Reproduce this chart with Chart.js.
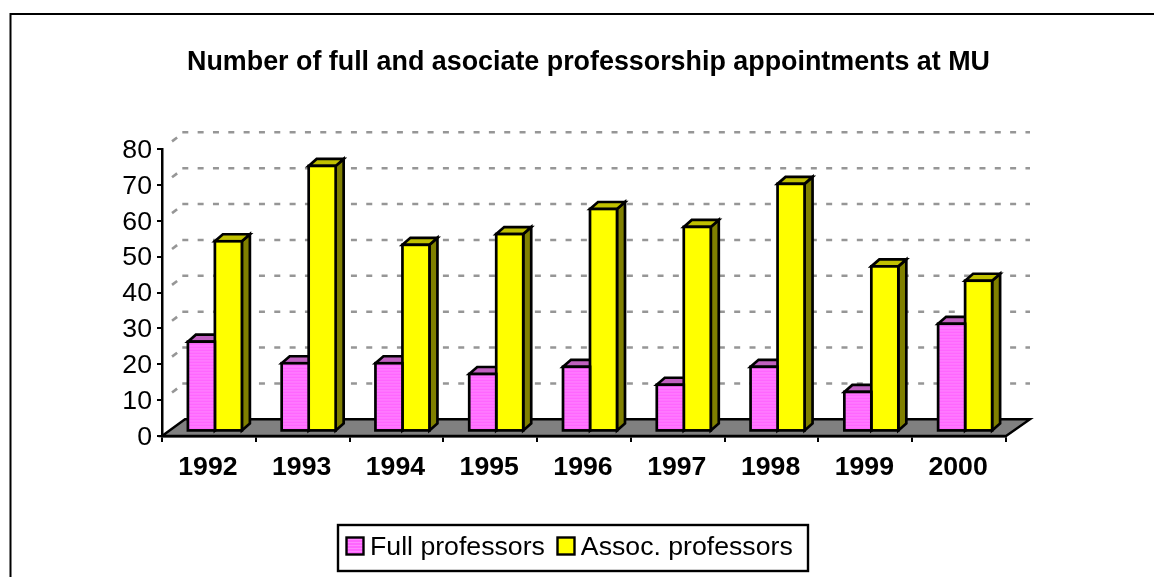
<!DOCTYPE html>
<html><head><meta charset="utf-8">
<style>html,body{margin:0;padding:0;background:#fff}canvas{display:block}</style>
<script src="https://cdn.jsdelivr.net/npm/chart.js@4"></script></head>
<body><canvas id="c" width="1154" height="577"></canvas>
<script>
const categories = ['1992','1993','1994','1995','1996','1997','1998','1999','2000'];
const fullProfessors = [25,19,19,16,18,13,18,11,30];
const assocProfessors = [53,74,52,55,62,57,69,46,42];
const yTicks = [0,10,20,30,40,50,60,70,80];

const W=1154,H=577,AL=162,AR=1006,AT=149,AB=436;
const FONT='"Liberation Sans", Arial, sans-serif';
const FS=26.67, TFS=26.87;
const WALLX=22, WALLY=16.7, BARX=6, BARY=4.6, SIDEX=8, SIDEY=7;

function stripes(){
  const p=document.createElement('canvas');p.width=2;p.height=3;
  const g=p.getContext('2d');
  g.fillStyle='#ff66ff';g.fillRect(0,0,2,3);
  g.fillStyle='#ff88ff';g.fillRect(0,2,2,1);
  return g.createPattern(p,'repeat');
}
const pinkFill=stripes();

function poly(ctx,pts,fill){
  ctx.beginPath();pts.forEach((p,i)=>i?ctx.lineTo(p[0],p[1]):ctx.moveTo(p[0],p[1]));ctx.closePath();
  if(fill){ctx.fillStyle=fill;ctx.fill();}
  ctx.stroke();
}
const LEGEND_START=346, LEGEND_TOP=524;
const depth3d={
  id:'depth3d',
  afterLayout(chart){
    const t=chart.titleBlock; t.left=23; t.right=W;
    const l=chart.legend, pad=l.options.labels.padding;
    const shift=LEGEND_START-(pad+W-l.lineWidths[0])/2;
    l.left=shift;l.right=W+shift;
    const h=l.height;l.top=LEGEND_TOP-2;l.bottom=l.top+h;
  },
  beforeDraw(chart){
    const c=chart.ctx;
    c.save();c.strokeStyle='#000';c.lineWidth=2;
    c.beginPath();c.moveTo(10.5,577);c.lineTo(10.5,14);c.lineTo(W,14);c.stroke();
    c.restore();
  },
  beforeDatasetsDraw(chart){
    const c=chart.ctx,y=chart.scales.y,x=chart.scales.x;
    c.save();
    c.strokeStyle='#969696';c.lineWidth=2.6;
    yTicks.slice(1).forEach(v=>{
      const py=y.getPixelForValue(v);
      c.setLineDash([6.4,100]);c.lineDashOffset=-12.6;
      c.beginPath();c.moveTo(x.left,py);c.lineTo(x.left+WALLX,py-WALLY);c.stroke();
      c.setLineDash([6,9.33]);c.lineDashOffset=0;
      c.beginPath();c.moveTo(x.left+20.3,py-WALLY);c.lineTo(x.right+24,py-WALLY);c.stroke();
    });
    c.setLineDash([]);
    const by=y.getPixelForValue(0);
    c.strokeStyle='#000';c.lineWidth=2.4;c.lineJoin='miter';
    poly(c,[[x.left,by],[x.left+23,by-WALLY],[x.right+24,by-WALLY],[x.right,by]],'#808080');
    c.lineWidth=2.7;
    [[0,'#c060c0','#803380'],[1,'#c0c000','#808000']].forEach(([i,topCol,sideCol])=>{
      chart.getDatasetMeta(i).data.forEach(b=>{
        const l=b.x-b.width/2+BARX,r=b.x+b.width/2+BARX,t=b.y-BARY,bt=b.base-BARY;
        poly(c,[[r,t],[r+SIDEX,t-SIDEY],[r+SIDEX,bt-SIDEY],[r,bt]],sideCol);
        poly(c,[[l,t],[l+SIDEX,t-SIDEY],[r+SIDEX,t-SIDEY],[r,t]],topCol);
      });
    });
    c.restore();
  },
  beforeDatasetDraw(chart){chart.ctx.save();chart.ctx.translate(BARX,-BARY);},
  afterDatasetDraw(chart,args){
    const c=chart.ctx;
    c.strokeStyle='#000';c.lineWidth=2.7;c.lineJoin='miter';
    args.meta.data.forEach(b=>{c.strokeRect(b.x-b.width/2,b.y,b.width,b.base-b.y);});
    c.restore();
  },
  afterDraw(chart){
    const c=chart.ctx;
    c.save();c.strokeStyle='#000';c.lineWidth=2.4;
    c.strokeRect(338,525,470,46);
    const sx=[346.5,557.5];
    [pinkFill,'#ffff00'].forEach((f,i)=>{
      c.fillStyle=f;c.fillRect(sx[i],537.5,17,17);c.strokeRect(sx[i],537.5,17,17);
    });
    c.restore();
  }
};

new Chart(document.getElementById('c'),{
  type:'bar',
  data:{labels:categories,datasets:[
    {label:'Full professors',data:fullProfessors,backgroundColor:pinkFill,borderWidth:0},
    {label:'Assoc. professors',data:assocProfessors,backgroundColor:'#ffff00',borderWidth:0}
  ]},
  options:{
    responsive:false,animation:false,
    layout:{padding:{left:0,right:W-AR,top:0,bottom:0}},
    datasets:{bar:{categoryPercentage:54/93.8,barPercentage:1,inflateAmount:0}},
    plugins:{
      tooltip:{enabled:false},
      title:{display:true,text:'Number of full and asociate professorship appointments at MU',
        color:'#000',font:{family:FONT,size:TFS,weight:'bold'},padding:{top:46,bottom:AT-46-TFS*1.2}},
      legend:{display:true,position:'bottom',
        labels:{boxWidth:10.7,boxHeight:0,padding:12,color:'#000',font:{family:FONT,size:FS},
          generateLabels(chart){return chart.data.datasets.map((d,i)=>({text:d.label,fillStyle:'rgba(0,0,0,0)',strokeStyle:'rgba(0,0,0,0)',lineWidth:0,datasetIndex:i}));}}}
    },
    scales:{
      x:{offset:true,
        afterFit(s){s.height=H-AB-s.chart.legend.height;},
        border:{color:'#000',width:2.5},
        grid:{display:true,drawOnChartArea:false,drawTicks:true,tickLength:6,color:'#000',lineWidth:2},
        ticks:{color:'#000',font:{family:FONT,size:FS,weight:'bold'},padding:10,labelOffset:-1,maxRotation:0,autoSkip:false}},
      y:{min:0,max:80,
        afterFit(s){s.width=AL;},
        afterBuildTicks(s){s.ticks=yTicks.map(v=>({value:v}));},
        border:{color:'#000',width:2.5},
        grid:{display:true,drawOnChartArea:false,drawTicks:true,tickLength:5,color:'#000',lineWidth:2},
        ticks:{color:'#000',font:{family:FONT,size:FS},padding:5,labelOffset:1.5}}
    }
  },
  plugins:[depth3d]
});
</script></body></html>
